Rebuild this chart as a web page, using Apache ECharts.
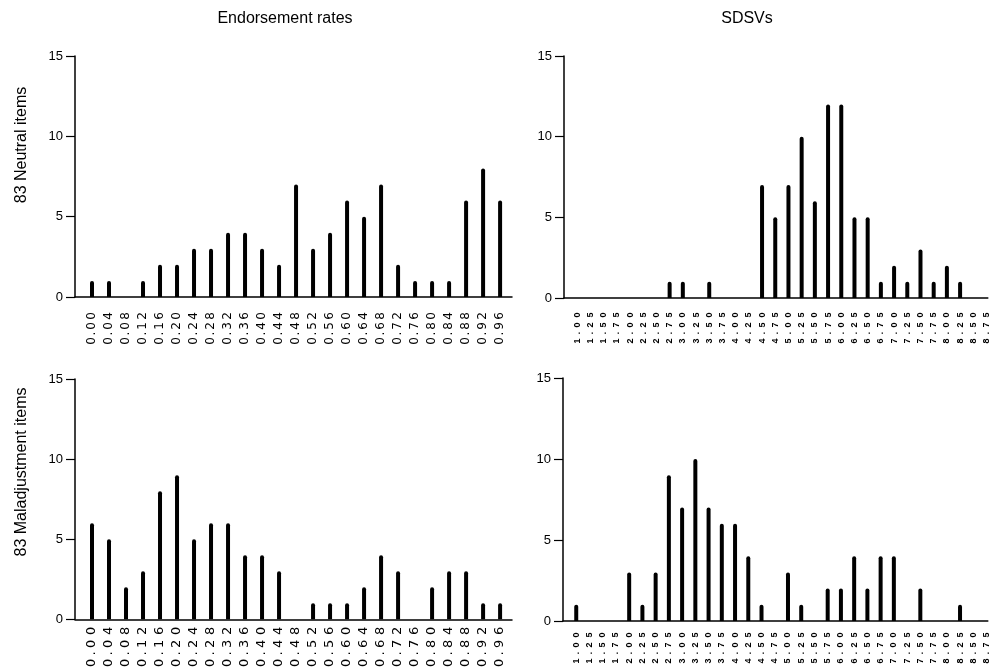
<!DOCTYPE html>
<html>
<head>
<meta charset="utf-8">
<script src="https://cdn.jsdelivr.net/npm/echarts@6/dist/echarts.min.js"></script>
<style>html,body{margin:0;padding:0;background:#fff;}#c{width:991px;height:670px;}</style>
</head>
<body>
<div id="c"></div>
<script>
// Tick labels (categories)
const erCats = ['0.00','0.04','0.08','0.12','0.16','0.20','0.24','0.28','0.32','0.36','0.40','0.44','0.48','0.52','0.56','0.60','0.64','0.68','0.72','0.76','0.80','0.84','0.88','0.92','0.96'];
const sdCats = ['1.00','1.25','1.50','1.75','2.00','2.25','2.50','2.75','3.00','3.25','3.50','3.75','4.00','4.25','4.50','4.75','5.00','5.25','5.50','5.75','6.00','6.25','6.50','6.75','7.00','7.25','7.50','7.75','8.00','8.25','8.50','8.75'];
const yTicks = [0, 5, 10, 15];

// Counts: 83 Neutral items
const erNeutral = [1,1,0,1,2,2,3,3,4,4,3,2,7,3,4,6,5,7,2,1,1,1,6,8,6];
const sdNeutral = [0,0,0,0,0,0,0,1,1,0,1,0,0,0,7,5,7,10,6,12,12,5,5,1,2,1,3,1,2,1,0,0];
// Counts: 83 Maladjustment items
const erMal = [6,5,2,3,8,9,5,6,6,4,4,3,0,1,1,1,2,4,3,0,2,3,3,1,1];
const sdMal = [1,0,0,0,3,1,3,9,7,10,7,6,6,4,1,0,3,1,0,2,2,4,2,4,4,0,2,0,0,1,0,0];

const FONT = '"Liberation Sans", Arial, sans-serif';
const chart = echarts.init(document.getElementById('c'), null, {renderer: 'canvas'});

const grids = [
  {left: 75, top: 56, width: 437, height: 241},
  {left: 564, top: 56, width: 427, height: 242},
  {left: 75, top: 379, width: 437, height: 241},
  {left: 563, top: 378, width: 428, height: 243}
];

function toData(vals) {
  const out = [];
  vals.forEach((v, i) => { if (v > 0) out.push([i, v]); });
  return out;
}

function labelCfg(cats, fs, dw, pw, margin, bold, fam) {
  return {
    rotate: 90,
    margin: margin,
    interval: 0,
    color: '#000',
    formatter: function (v) {
      const s = cats[Math.round(v)];
      if (s === undefined || Math.abs(v - Math.round(v)) > 1e-6) return '';
      return s.split('').map(ch => ch === '.' ? '{p|.}' : '{d|' + ch + '}').join('');
    },
    rich: {
      d: {width: dw, align: 'center', fontSize: fs, fontFamily: fam, fontWeight: bold ? 'bold' : 'normal', color: '#000'},
      p: {width: pw, align: 'center', fontSize: fs, fontFamily: fam, fontWeight: bold ? 'bold' : 'normal', color: '#000'}
    }
  };
}

const xCfg = [
  {cats: erCats, max: 24.7, lab: labelCfg(erCats, 12, 10, 5, 14, false, '"DejaVu Sans", sans-serif')},
  {cats: sdCats, max: 31.1, lab: labelCfg(sdCats, 9, 10, 6, 12, true, FONT)},
  {cats: erCats, max: 24.7, lab: labelCfg(erCats, 13, 13, 6, 5, false, '"DejaVu Sans", sans-serif')},
  {cats: sdCats, max: 31.1, lab: labelCfg(sdCats, 9, 10, 6, 9, true, FONT)}
];

const xAxis = xCfg.map((c, i) => ({
  type: 'value', gridIndex: i, min: -1, max: c.max, interval: 1,
  axisLine: {show: true, onZero: false, lineStyle: {color: '#000', width: 1.5}},
  axisTick: {show: false},
  splitLine: {show: false},
  axisLabel: c.lab
}));

const yAxis = grids.map((g, i) => ({
  type: 'value', gridIndex: i, min: yTicks[0], max: yTicks[yTicks.length - 1], interval: 5,
  axisLine: {show: true, onZero: false, lineStyle: {color: '#000', width: 1.5}},
  axisTick: {show: true, inside: false, length: 9, lineStyle: {color: '#000', width: 1.2}},
  splitLine: {show: false},
  axisLabel: {margin: 12, fontSize: 13, fontFamily: FONT, color: '#000'}
}));

const seriesVals = [erNeutral, sdNeutral, erMal, sdMal];
const series = seriesVals.map((vals, i) => ({
  type: 'bar', xAxisIndex: i, yAxisIndex: i, barWidth: 4,
  itemStyle: {color: '#000', borderRadius: [2, 2, 0, 0]},
  data: toData(vals), animation: false
}));

chart.setOption({
  animation: false,
  backgroundColor: '#fff',
  grid: grids,
  xAxis: xAxis,
  yAxis: yAxis,
  series: series,
  graphic: [
    {type: 'text', x: 285, y: 19, style: {text: 'Endorsement rates', font: '16px ' + FONT, fill: '#000', align: 'center', verticalAlign: 'middle'}},
    {type: 'text', x: 747, y: 19, style: {text: 'SDSVs', font: '16px ' + FONT, fill: '#000', align: 'center', verticalAlign: 'middle'}},
    {type: 'text', x: 22, y: 145, rotation: Math.PI / 2, style: {text: '83 Neutral items', font: '16px ' + FONT, fill: '#000', align: 'center', verticalAlign: 'middle'}},
    {type: 'text', x: 22, y: 472, rotation: Math.PI / 2, style: {text: '83 Maladjustment items', font: '16px ' + FONT, fill: '#000', align: 'center', verticalAlign: 'middle'}}
  ]
});
</script>
</body>
</html>
